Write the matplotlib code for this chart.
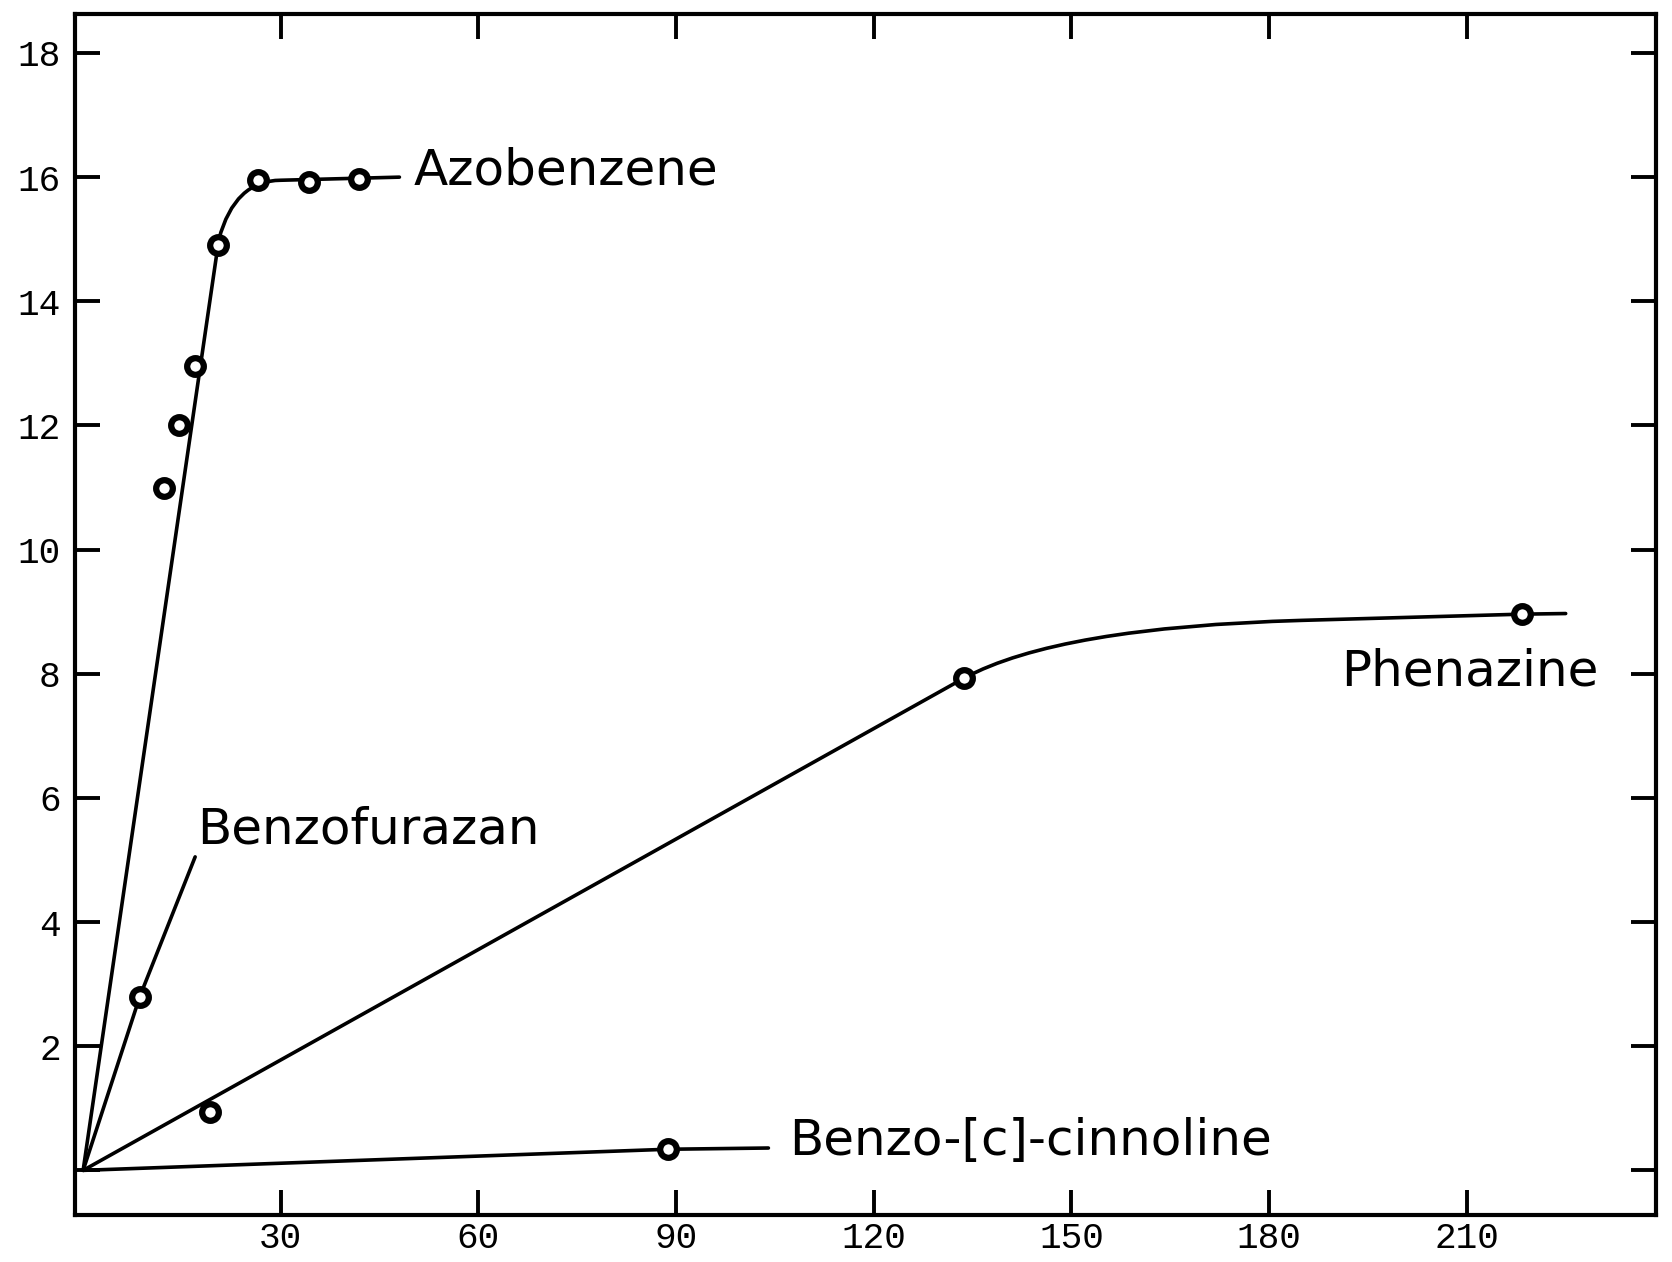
import matplotlib
matplotlib.use("Agg")
import matplotlib.pyplot as plt
from matplotlib.path import Path
from matplotlib.patches import PathPatch

# ---- data ----
azo_time = [12.3, 14.6, 17.0, 20.5, 26.5, 34.3, 41.9]
azo_value = [11.0, 12.0, 12.95, 14.9, 15.95, 15.92, 15.97]

benzofurazan_time = [8.6]
benzofurazan_value = [2.8]

phenazine_time = [19.3, 133.7, 218.4]
phenazine_value = [0.94, 7.93, 8.96]

cinnoline_time = [88.7]
cinnoline_value = [0.34]

# hand-drawn guide curves (vertices)
azo_curve_x = [0, 20.6, 23.0, 30.0, 48.0]
azo_curve_y = [0, 15.0, 15.95, 15.95, 16.0]
azo_curve_codes = [Path.MOVETO, Path.LINETO, Path.CURVE3, Path.CURVE3, Path.LINETO]

phen_curve_x = [0, 133.7, 148.0, 185.0, 218.4, 225.0]
phen_curve_y = [0, 7.93, 8.75, 8.86, 8.96, 8.97]
phen_curve_codes = [Path.MOVETO, Path.LINETO, Path.CURVE3, Path.CURVE3, Path.LINETO, Path.LINETO]

benzofurazan_line_x = [0, 8.6, 17.0]
benzofurazan_line_y = [0, 2.8, 5.05]

cinnoline_line_x = [0, 88.7, 104.0]
cinnoline_line_y = [0, 0.34, 0.36]

x_ticks = [30, 60, 90, 120, 150, 180, 210]
y_ticks = [0, 2, 4, 6, 8, 10, 12, 14, 16, 18]
y_tick_labels = ["", "2", "4", "6", "8", "10", "12", "14", "16", "18"]

labels = ["Azobenzene", "Benzofurazan", "Phenazine", "Benzo-[c]-cinnoline"]
label_x = [50.2, 17.3, 190.9, 107.1]
label_y = [16.1, 5.49, 8.03, 0.48]

# ---- figure ----
fig = plt.figure(figsize=(16.72, 12.62), dpi=100)
ax = fig.add_axes([0.0446, 0.0372, 0.9904 - 0.0446, 0.989 - 0.0372])
ax.set_xlim(-1.3, 238.7)
ax.set_ylim(-0.72, 18.63)

lw = 2.6
for xs, ys, codes in [(azo_curve_x, azo_curve_y, azo_curve_codes),
                      (phen_curve_x, phen_curve_y, phen_curve_codes)]:
    p = Path(list(zip(xs, ys)), codes)
    ax.add_patch(PathPatch(p, facecolor="none", edgecolor="black", lw=lw,
                           capstyle="round", joinstyle="round"))

ax.plot(benzofurazan_line_x, benzofurazan_line_y, color="black", lw=lw, solid_capstyle="round")
ax.plot(cinnoline_line_x, cinnoline_line_y, color="black", lw=lw, solid_capstyle="round")

mk = dict(marker="o", linestyle="none", ms=12, mfc="white", mec="black", mew=4.5, zorder=5)
ax.plot(azo_time, azo_value, **mk)
ax.plot(benzofurazan_time, benzofurazan_value, **mk)
ax.plot(phenazine_time, phenazine_value, **mk)
ax.plot(cinnoline_time, cinnoline_value, **mk)

for t, x, y in zip(labels, label_x, label_y):
    ax.text(x, y, t, fontsize=36, family="DejaVu Sans",
            ha="left", va="center", color="black")

for s in ax.spines.values():
    s.set_linewidth(3)
ax.set_xticks(x_ticks)
ax.set_xticklabels([str(v) for v in x_ticks])
ax.set_yticks(y_ticks)
ax.set_yticklabels(y_tick_labels)
ax.tick_params(axis="both", direction="in", length=18, width=2.8,
               top=True, right=True, labelsize=26)
ax.tick_params(axis="x", pad=4)
ax.tick_params(axis="y", pad=10)
for lab in ax.get_xticklabels() + ax.get_yticklabels():
    lab.set_family("Liberation Mono")

fig.savefig("out.png", dpi=100)
